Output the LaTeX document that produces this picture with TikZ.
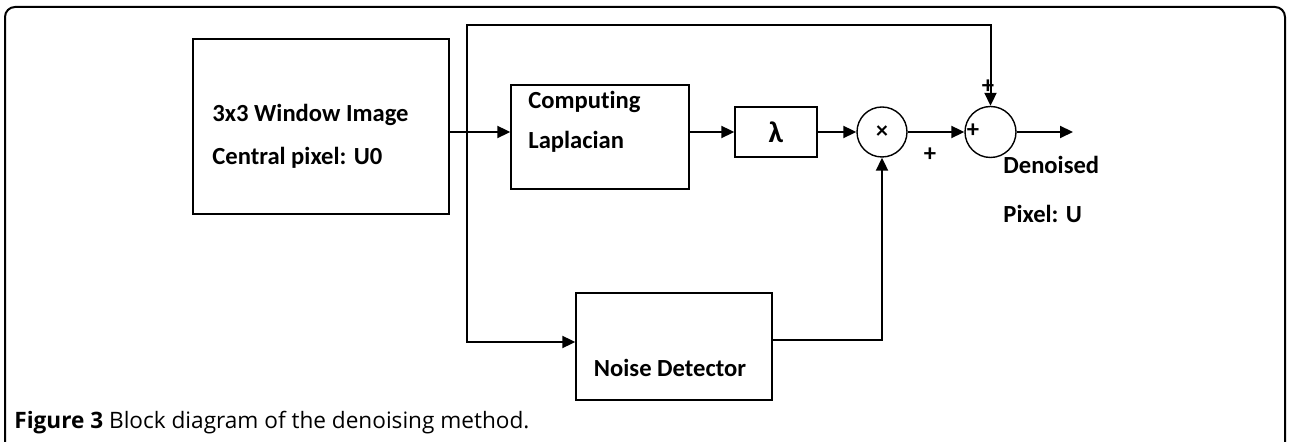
\documentclass[tikz,border=0pt]{standalone}
\usepackage{fontspec}
\setmainfont{Carlito}[Ligatures=NoCommon]
\newfontfamily\capfont{Open Sans}
\usetikzlibrary{arrows.meta}

\tikzset{
  block/.style={draw, line width=0.7pt, inner sep=0pt},
  junct/.style={draw, circle, line width=0.7pt, minimum size=25pt, inner sep=0pt},
  lbl/.style={anchor=west, inner sep=0pt, font=\bfseries\fontsize{12.3}{14}\selectfont},
  arr/.style={-{Triangle[length=6.5pt,width=6pt]}, line width=1pt}
}

\begin{document}
\begin{tikzpicture}[x=0.5pt, y=-0.5pt]
\useasboundingbox (0,0) rectangle (1290,442);
% outer frame, open at the bottom
\draw[line width=1pt, rounded corners=5pt] (5,460) -- (5,7) -- (1285,7) -- (1285,460);

% blocks
\node[block, minimum width=128pt, minimum height=87.5pt] (win) at (321,126.5) {};
\node[block, minimum width=89pt, minimum height=52pt] (lap) at (600,137) {};
\node[block, minimum width=41pt, minimum height=25pt] (lam) at (776,132)
  {\bfseries\fontsize{15}{16}\selectfont λ};
\node[block, minimum width=98pt, minimum height=53.5pt] (nd) at (674,346.5) {};
\node[junct] (mul) at (882,132) {\bfseries\fontsize{12}{12}\selectfont ×};
\node[junct, minimum size=25.5pt] (sum) at (990.5,132) {};

% texts
\node[lbl] (win1) at (212,115) {3x3 Window Image};
\node[lbl] (win2) at (212,158) {Central pixel: U0};
\node[lbl] (lap1) at (528,102) {Computing};
\node[lbl] (lap2) at (528,142) {Laplacian};
\node[lbl, anchor=center] (nd1) at (670,368) {Noise Detector};
\node[lbl] (out1) at (1003,165) {Denoised};
\node[lbl] (out2) at (1003,214) {Pixel: U};
\node[lbl, anchor=center] (p1) at (988,87) {+};
\node[lbl, anchor=center] (p2) at (973,131) {+};
\node[lbl, anchor=center] (p3) at (930,155) {+};

% connectors
\coordinate (jn) at (467,132);
\coordinate (tp) at (467,25);
\coordinate (out) at (1073,132);
\draw[arr] (win.east |- jn) -- (lap.west |- jn);
\draw[arr] (lap.east |- jn) -- (lam.west);
\draw[arr] (lam.east) -- (mul.west);
\draw[arr] (mul.east) -- (sum.west);
\draw[arr] (sum.east) -- (out);
\draw[arr] (jn) -- (tp) -| (sum.north);
\draw[arr] (jn) |- ([yshift=2.25pt]nd.west);
\draw[arr] ([yshift=3pt]nd.east) -| (mul.south);

% caption
\node[anchor=west, inner sep=0pt, font=\capfont\fontsize{11.3}{12}\selectfont] (cap) at (14,423)
  {\textbf{Figure 3} Block diagram of the denoising method.};
\end{tikzpicture}
\end{document}
